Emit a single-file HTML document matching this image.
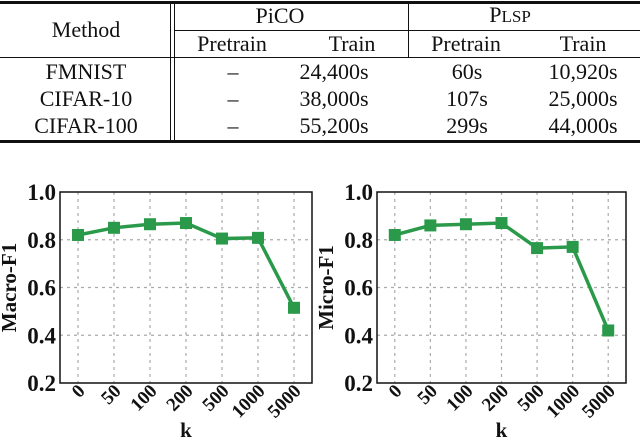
<!DOCTYPE html>
<html><head><meta charset="utf-8"><style>
body{margin:0;width:640px;height:440px;background:#fff;overflow:hidden;font-family:"Liberation Serif","Times New Roman","DejaVu Serif",serif;}
#tbl{position:absolute;left:0;top:0;width:640px;height:145px;}
.t{position:absolute;font-family:"Liberation Serif","Times New Roman","DejaVu Serif",serif;font-size:22px;line-height:22px;transform:translate(-50%,-50%);white-space:nowrap;color:#111;}
.r{position:absolute;background:#111;}
svg text{font-family:"Liberation Serif","Times New Roman",serif;font-weight:bold;fill:#111;}
</style></head><body>
<div id="tbl">
<div class="r" style="left:0;top:1px;width:640px;height:3px"></div>
<div class="r" style="left:0;top:140px;width:640px;height:3px"></div>
<div class="r" style="left:0;top:57px;width:640px;height:1px"></div>
<div class="r" style="left:175px;top:30px;width:465px;height:1px"></div>
<div class="r" style="left:170px;top:3px;width:1px;height:138px"></div>
<div class="r" style="left:174px;top:3px;width:1px;height:138px"></div>
<div class="r" style="left:408px;top:3px;width:1px;height:54px"></div>
<div class="t" style="left:86px;top:30px">Method</div>
<div class="t" style="left:280px;top:16px">PiCO</div>
<div class="t" style="left:510px;top:16px">P<span style="font-size:17px">LSP</span></div>
<div class="t" style="left:232px;top:44px">Pretrain</div>
<div class="t" style="left:352px;top:44px">Train</div>
<div class="t" style="left:466px;top:44px">Pretrain</div>
<div class="t" style="left:583px;top:44px">Train</div>
<div class="t" style="left:86px;top:72px">FMNIST</div>
<div class="t" style="left:233px;top:72px">–</div>
<div class="t" style="left:334px;top:72px">24,400s</div>
<div class="t" style="left:467px;top:72px">60s</div>
<div class="t" style="left:583px;top:72px">10,920s</div>
<div class="t" style="left:86px;top:99px">CIFAR-10</div>
<div class="t" style="left:233px;top:99px">–</div>
<div class="t" style="left:334px;top:99px">38,000s</div>
<div class="t" style="left:467px;top:99px">107s</div>
<div class="t" style="left:583px;top:99px">25,000s</div>
<div class="t" style="left:86px;top:126px">CIFAR-100</div>
<div class="t" style="left:233px;top:126px">–</div>
<div class="t" style="left:334px;top:126px">55,200s</div>
<div class="t" style="left:467px;top:126px">299s</div>
<div class="t" style="left:583px;top:126px">44,000s</div>
</div>
<svg id="charts" width="640" height="440" style="position:absolute;left:0;top:0"></svg>
<script>
const categories=["0","50","100","200","500","1000","5000"];
const macroF1=[0.82,0.85,0.865,0.87,0.805,0.808,0.515];
const microF1=[0.82,0.86,0.865,0.87,0.765,0.77,0.42];
const yTicks=[0.2,0.4,0.6,0.8,1.0];
const yTickLabels=["0.2","0.4","0.6","0.8","1.0"];
const NS="http://www.w3.org/2000/svg";
const svg=document.getElementById('charts');
function mk(tag,attrs,parent){const e=document.createElementNS(NS,tag);for(const k in attrs)e.setAttribute(k,attrs[k]);(parent||svg).appendChild(e);return e;}
function chart(x0,x1,vals,title,name){
  const y0=192,y1=383;
  const g=mk('g',{});
  
  
  const n=categories.length,step=(x1-x0)/n;
  const xs=i=>x0+step*(i+0.5);
  const ys=v=>y1-(v-0.2)/(0.8)*(y1-y0);
  yTicks.forEach((t,i)=>{
    if(i>0&&i<yTicks.length-1){const l=mk('line',{x1:x0,x2:x1,y1:ys(t),y2:ys(t),stroke:'#aaa','stroke-dasharray':'3,4','stroke-width':1.2},g);}
    const tx=mk('text',{x:x0-4,y:ys(t)+8,'text-anchor':'end','font-size':23},g);tx.textContent=yTickLabels[i];
    
    
  });
  categories.forEach((c,i)=>{
    const l=mk('line',{x1:xs(i),x2:xs(i),y1:y0,y2:y1,stroke:'#aaa','stroke-dasharray':'3,4','stroke-width':1.2},g);
    
    
    const tx=mk('text',{x:0,y:0,'text-anchor':'end','font-size':19,transform:`translate(${xs(i)+8},${y1+9}) rotate(-45)`},g);tx.textContent=c;
    
    
  });
  const r=mk('rect',{x:x0,y:y0,width:x1-x0,height:y1-y0,fill:'none',stroke:'#111','stroke-width':1.5},g);
  
  
  const p=mk('polyline',{points:vals.map((v,i)=>xs(i)+','+ys(v)).join(' '),fill:'none',stroke:'#2a9a4a','stroke-width':3.5},g);
  
  
  vals.forEach((v,i)=>{const m=mk('rect',{x:xs(i)-6,y:ys(v)-6,width:12,height:12,fill:'#2a9a4a'},g);
    
    });
  const yt=mk('text',{x:0,y:0,'text-anchor':'middle','font-size':21,transform:`translate(${x0-44},${(y0+y1)/2}) rotate(-90)`},g);yt.textContent=title;
  
  
  const xt=mk('text',{x:(x0+x1)/2,y:437,'text-anchor':'middle','font-size':21},g);xt.textContent='k';
  
  
}
chart(60,312,macroF1,'Macro-F1','macro-f1-chart');
chart(377,626,microF1,'Micro-F1','micro-f1-chart');
</script>
</body></html>
